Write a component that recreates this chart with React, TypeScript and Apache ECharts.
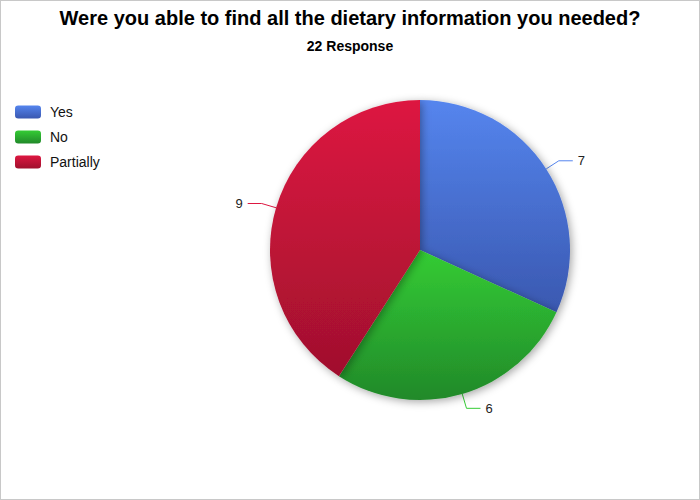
import React, { useEffect, useRef } from "react";
import * as echarts from "echarts";

const categories = ["Yes", "No", "Partially"];
const values = [7, 6, 9];
const topColors = ["#5585EE", "#34CC34", "#DD1741"];
const bottomColors = ["#3A58B0", "#21892A", "#A0102D"];

export default function App() {
  const ref = useRef<HTMLDivElement>(null);
  useEffect(() => {
    document.body.style.margin = "0";
    const chart = echarts.init(ref.current!, null, { renderer: "svg" });
    const data = categories.map((name, i) => ({
      name,
      value: values[i],
      itemStyle: {
        color: new echarts.graphic.LinearGradient(0, 0, 0, 1, [
          { offset: 0, color: topColors[i] },
          { offset: 1, color: bottomColors[i] },
        ]),
      },
      label: { color: "#222" },
      labelLine: { lineStyle: { color: topColors[i] } },
    }));
    chart.setOption({
      animation: false,
      backgroundColor: "#fff",
      title: {
        text: "Were you able to find all the dietary information you needed?",
        subtext: "22 Response",
        left: "center",
        top: 2,
        itemGap: 11,
        textStyle: { fontFamily: "Liberation Sans", fontWeight: "bold", fontSize: 20, color: "#000" },
        subtextStyle: { fontFamily: "Liberation Sans", fontWeight: "bold", fontSize: 14, color: "#000" },
      },
      legend: {
        orient: "vertical",
        left: 14,
        top: 104,
        padding: 0,
        icon: "roundRect",
        itemWidth: 26,
        itemHeight: 13,
        itemGap: 11,
        data: categories,
        textStyle: { fontFamily: "Liberation Sans", fontSize: 14, color: "#111", padding: [0, 0, 0, 4] },
      },
      series: [
        {
          type: "pie",
          center: [419, 249],
          radius: 150,
          startAngle: 90,
          clockwise: true,
          data,
          itemStyle: {
            shadowBlur: 8,
            shadowColor: "rgba(0,0,0,0.35)",
            shadowOffsetX: 2,
            shadowOffsetY: 2,
          },
          label: {
            show: true,
            formatter: "{c}",
            fontFamily: "Liberation Sans",
            fontSize: 13,
          },
          labelLine: { show: true, length: 15, length2: 14, lineStyle: { width: 1 } },
          emphasis: { disabled: true },
        },
      ],
    });
    return () => chart.dispose();
  }, []);
  return (
    <div
      style={{
        position: "absolute",
        left: 0,
        top: 0,
        width: 700,
        height: 500,
        border: "1px solid #c8c8c8",
        boxSizing: "border-box",
        background: "#fff",
      }}
    >
      <div ref={ref} style={{ width: 698, height: 498 }} />
    </div>
  );
}
